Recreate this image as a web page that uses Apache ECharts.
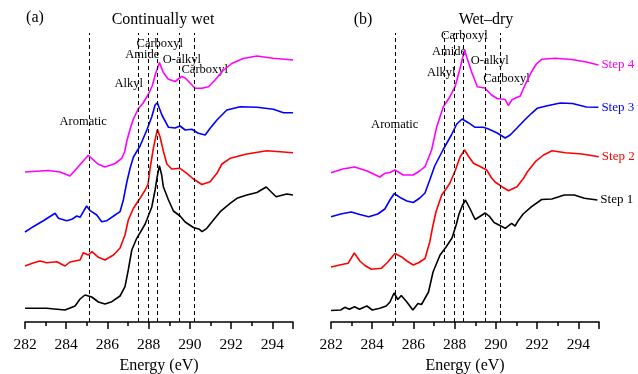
<!DOCTYPE html>
<html>
<head>
<meta charset="utf-8">
<script src="https://cdn.jsdelivr.net/npm/echarts@6/dist/echarts.min.js"></script>
<style>
html, body { margin: 0; background: #fff; }
#main { width: 638px; height: 374px; }
</style>
</head>
<body>
<div id="main"></div>
<script>
// peak positions (eV) marked by dashed lines
var peaks = [285.1, 287.5, 288.0, 288.4, 289.5, 290.2];
var dashTop = 289;

// (a) continually wet, offset intensity (a.u.)
var wetStep4 = [[282.00,150],[283.12,151.5],[283.70,150],[284.18,146],[284.59,155.5],[285.07,166.7],[285.54,158],[285.88,155],[286.37,158.5],[286.69,163.7],[286.83,170],[286.94,181],[287.10,193],[287.26,203],[287.49,213],[287.73,219],[287.99,228],[288.17,236],[288.33,248],[288.52,259.5],[288.71,249.5],[288.94,243],[289.28,240.5],[289.60,245.5],[289.77,244],[289.96,240],[290.25,233.7],[290.58,233.7],[290.90,235.3],[291.22,242],[291.61,251.5],[292.03,258.5],[292.58,263.5],[293.25,266],[294.04,263.7],[295.00,262]];
var wetStep3 = [[282.00,90],[282.40,95.3],[282.89,101.3],[283.46,108.7],[283.62,103.7],[284.02,101.3],[284.27,102.7],[284.51,106],[284.67,104.7],[284.99,116],[285.16,111.3],[285.48,107],[285.72,100.3],[285.97,101.3],[286.37,107],[286.61,110.3],[286.77,122],[286.94,140],[287.10,154],[287.26,165],[287.58,176],[287.91,192],[288.15,205.3],[288.31,217],[288.42,219.3],[288.64,207],[288.96,194.7],[289.28,194],[289.52,196],[289.77,192],[290.09,192.7],[290.41,188.7],[290.74,187],[290.98,193.7],[291.31,202],[291.79,212],[292.44,215.3],[293.25,214.7],[294.05,212.7],[294.54,209.3],[295.00,209.3]];
var wetStep2 = [[282.00,56],[282.39,59],[282.73,61],[283.05,59.3],[283.54,60.3],[283.94,56],[284.18,60],[284.67,62],[284.83,69.3],[285.07,67],[285.25,70.3],[285.56,64.7],[285.88,62],[286.29,67],[286.61,74],[286.85,87],[287.01,102],[287.26,113.7],[287.58,123.7],[287.83,132],[287.97,138],[288.07,154],[288.23,174],[288.42,192.7],[288.55,185.3],[288.71,171],[288.88,158],[289.12,153],[289.52,153.7],[289.85,148.7],[290.17,143],[290.58,137.5],[290.98,140.3],[291.31,148.7],[291.55,158],[291.95,163.7],[292.76,168],[293.73,171.3],[294.38,170.3],[295.00,169.3]];
var wetStep1 = [[282.00,13.7],[283.05,13.7],[283.94,12],[284.43,16],[284.67,23],[284.91,27],[285.24,25],[285.56,20],[285.88,18],[286.21,20.3],[286.61,26],[286.85,35.3],[287.01,52],[287.18,72],[287.42,83.7],[287.83,98],[288.15,115],[288.31,132],[288.41,145],[288.52,156.3],[288.63,147],[288.71,135.3],[288.96,122],[289.20,111],[289.52,106],[289.77,100],[290.17,94.5],[290.46,92.7],[290.59,90.3],[290.82,93.7],[291.14,102],[291.47,110.3],[291.95,118.7],[292.28,123.7],[292.76,127],[293.25,129.5],[293.70,135],[294.18,125.3],[294.70,128],[295.00,127]];

// (b) wet-dry
var dryStep4 = [[282.00,149.3],[282.57,153],[283.15,155],[283.72,151.3],[284.37,145],[284.61,148.7],[284.86,149.5],[285.10,152],[285.50,147],[285.99,147],[286.30,151],[286.56,155.3],[286.88,172],[287.13,195.3],[287.45,215.3],[287.77,225.3],[288.02,235.3],[288.26,253.7],[288.48,272],[288.60,264],[288.82,250],[289.10,235.3],[289.46,234],[289.79,227],[290.06,223.5],[290.45,222.5],[290.60,216.5],[290.79,222.5],[291.18,226],[291.41,237],[291.73,250.3],[291.96,258],[292.22,262.7],[292.88,263.7],[293.68,262.5],[294.39,260],[294.97,257]];
var dryStep3 = [[282.00,105.3],[282.47,108],[282.98,110],[283.40,107.5],[283.83,105.3],[284.27,108],[284.61,113],[284.86,122],[285.07,128.5],[285.42,123.7],[285.68,121],[285.99,119.5],[286.31,124],[286.56,129],[286.79,142],[287.03,156],[287.43,172],[287.84,187],[288.10,198],[288.36,203],[288.66,199.3],[288.99,194.7],[289.39,194.7],[289.64,193],[290.06,189],[290.45,184],[290.69,187],[291.01,193.7],[291.37,201.5],[291.73,208.7],[292.00,213.7],[292.44,216],[293.12,219],[293.71,218.5],[294.39,215],[294.97,214.7]];
var dryStep2 = [[282.00,55],[282.42,57],[282.83,58.7],[283.13,69],[283.40,61],[283.64,56.5],[283.96,52.7],[284.44,53.7],[284.76,60],[285.10,68.5],[285.41,65.3],[285.68,61],[285.99,57],[286.27,59.5],[286.56,63.5],[286.79,80],[286.92,94],[287.09,110],[287.37,127],[287.58,133],[287.77,139],[288.02,151],[288.26,165],[288.48,172],[288.66,166],[288.91,158.7],[289.23,155.5],[289.55,152],[289.79,144],[289.96,140],[290.29,135.3],[290.61,131.3],[291.02,135.3],[291.34,143.7],[291.52,150],[291.91,160.3],[292.31,167],[292.72,171.3],[293.37,169.3],[294.18,168],[294.99,165.3]];
var dryStep1 = [[282.00,11.5],[282.47,12],[282.67,14.7],[282.89,12.7],[283.14,15.3],[283.38,12.7],[283.74,16],[284.00,12],[284.37,13.7],[284.68,16],[284.86,20],[285.06,29],[285.24,22.5],[285.41,26.5],[285.68,20],[285.97,12],[286.22,18.5],[286.39,17.5],[286.73,30],[286.95,50],[287.29,67],[287.59,75.3],[287.87,84],[288.07,97],[288.21,108],[288.36,116],[288.52,122],[288.75,113],[288.99,102.5],[289.18,105],[289.48,109],[289.70,105.3],[289.91,99.5],[290.45,93.7],[290.76,98.7],[290.93,96],[291.08,101.3],[291.32,108],[291.73,115.3],[292.22,122.5],[292.71,123],[293.32,127],[293.80,127],[294.29,123.7],[294.92,122]];

var stepNames = ['Step 1', 'Step 2', 'Step 3', 'Step 4'];
var stepColors = ['#000000', '#ff0000', '#0000ff', '#ff00ff'];

// group annotations [eV, intensity, text]
var wetLabels = [[284.82,200,'Aromatic'],[287.03,238.7,'Alkyl'],[287.69,267.7,'Amide'],[288.54,278.7,'Carboxyl'],[289.61,262.7,'O-alkyl'],[290.72,252,'Carboxyl']];
var dryLabels = [[285.09,197,'Aromatic'],[287.35,249.3,'Alkyl'],[287.72,270.3,'Amide'],[288.47,286,'Carboxyl'],[289.70,261,'O-alkyl'],[290.51,243.7,'Carboxyl']];

var serif = "'Liberation Serif', 'DejaVu Serif', serif";

function xAxisFor(gi) {
    return {
        type: 'value', gridIndex: gi, min: 282, max: 295, interval: 2,
        name: 'Energy (eV)', nameLocation: 'middle', nameGap: 35,
        nameTextStyle: { fontFamily: serif, fontSize: 16, color: '#000' },
        axisLine: { onZero: false, lineStyle: { color: '#000', width: 1.5 } },
        axisTick: { length: 7, lineStyle: { color: '#000', width: 1.5 } },
        minorTick: { show: true, splitNumber: 2, length: 4, lineStyle: { color: '#000', width: 1.5 } },
        axisLabel: { fontFamily: serif, fontSize: 15.5, color: '#000', margin: 15, showMaxLabel: false },
        splitLine: { show: false }
    };
}
function yAxisFor(gi) {
    return { type: 'value', gridIndex: gi, min: 0, max: 320, show: false };
}

var series = [];
function addGroup(steps, gi, withEnd) {
    steps.forEach(function (d, i) {
        var s = {
            type: 'line', xAxisIndex: gi, yAxisIndex: gi, data: d,
            showSymbol: false, smooth: false, silent: true,
            lineStyle: { color: stepColors[i], width: 1.6 },
            itemStyle: { color: stepColors[i] }
        };
        if (withEnd) {
            s.endLabel = { show: true, formatter: stepNames[i], color: stepColors[i],
                fontFamily: serif, fontSize: 13, distance: 3 };
        }
        if (i === 0) {
            s.markLine = {
                symbol: 'none', silent: true, animation: false,
                label: { show: false },
                lineStyle: { type: [4, 3], color: '#000', width: 1 },
                data: peaks.map(function (p) { return [{ coord: [p, 0] }, { coord: [p, dashTop] }]; })
            };
        }
        series.push(s);
    });
}
addGroup([wetStep1, wetStep2, wetStep3, wetStep4], 0, false);
addGroup([dryStep1, dryStep2, dryStep3, dryStep4], 1, true);

function labelSeries(list, gi) {
    return {
        type: 'scatter', xAxisIndex: gi, yAxisIndex: gi, symbolSize: 0, silent: true,
        itemStyle: { color: '#000', opacity: 1 },
        data: list.map(function (a) { return { value: [a[0], a[1]], name: a[2] }; }),
        label: { show: true, position: 'inside', formatter: '{b}', color: '#000',
            textBorderWidth: 0, fontFamily: serif, fontSize: 12.5 }
    };
}
series.push(labelSeries(wetLabels, 0));
series.push(labelSeries(dryLabels, 1));

function txt(x, y, t) {
    return { type: 'text', x: x, y: y, style: { text: t, fill: '#000', font: '16px ' + serif,
        textAlign: 'center', textVerticalAlign: 'middle' } };
}

var option = {
    animation: false,
    backgroundColor: '#fff',
    grid: [
        { left: 25, top: 2, width: 268, height: 320, outerBoundsMode: 'none', containLabel: false },
        { left: 331, top: 2, width: 268, height: 320, outerBoundsMode: 'none', containLabel: false }
    ],
    xAxis: [xAxisFor(0), xAxisFor(1)],
    yAxis: [yAxisFor(0), yAxisFor(1)],
    graphic: [
        txt(35, 18, '(a)'), txt(163, 20, 'Continually wet'),
        txt(363, 20, '(b)'), txt(486, 20, 'Wet\u2013dry')
    ],
    series: series
};

var myChart = echarts.init(document.getElementById('main'));
myChart.setOption(option);
</script>
</body>
</html>
